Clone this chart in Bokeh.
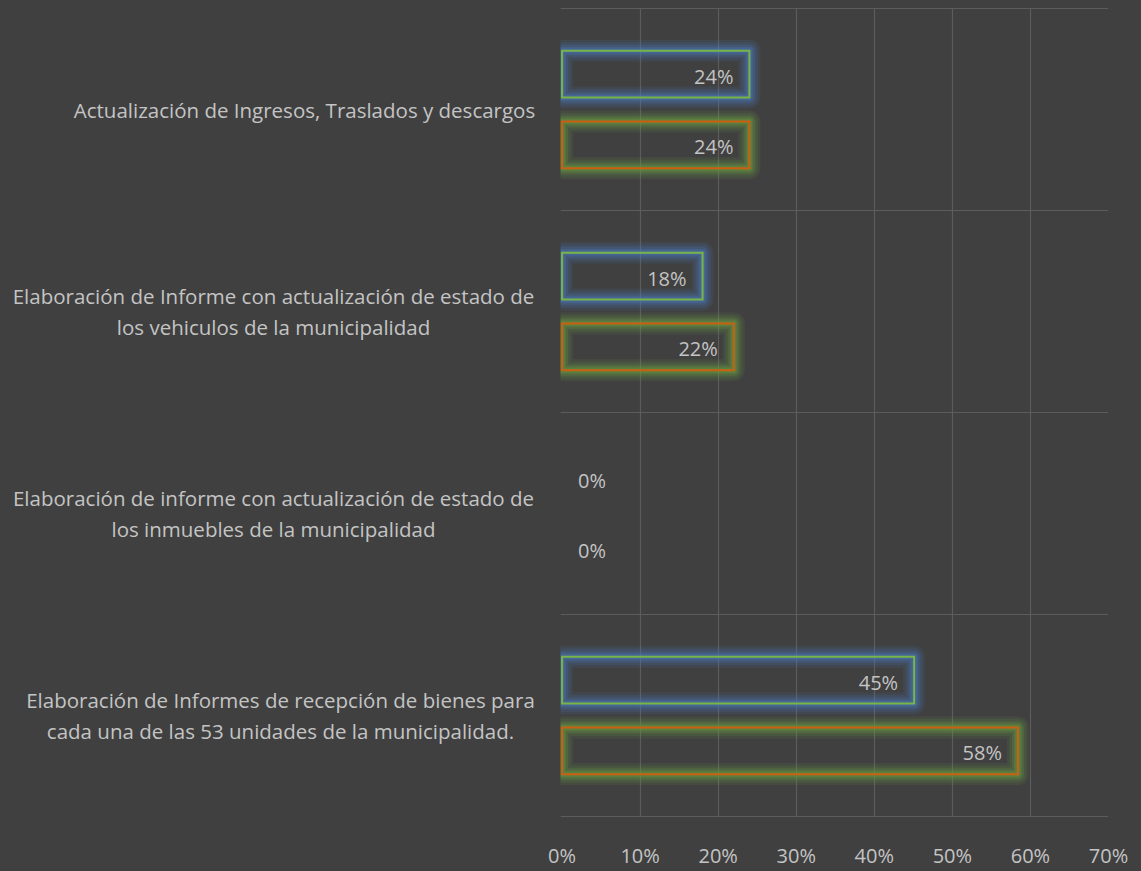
from bokeh.plotting import figure
from bokeh.layouts import row
from bokeh.models import Range1d, FixedTicker, NumeralTickFormatter, Grid, ColumnDataSource
from bokeh.transform import dodge
from bokeh.core.properties import value
from bokeh.embed import file_html
from bokeh.resources import INLINE
import numpy as np

categories = [
    "Actualización de Ingresos, Traslados y descargos",
    "Elaboración de Informe con actualización de estado de\nlos vehiculos de la municipalidad",
    "Elaboración de informe con actualización de estado de\nlos inmuebles de la municipalidad",
    "Elaboración de Informes de recepción de bienes para\ncada una de las 53 unidades de la municipalidad.",
]
serie_1 = [0.24, 0.18, 0.0, 0.451]
serie_2 = [0.24, 0.22, 0.0, 0.584]
x_ticks = [0.0, 0.1, 0.2, 0.3, 0.4, 0.5, 0.6, 0.7]

# style / layout
BG = "#404040"
GRID = "#5C5C5C"
TXT = "#C4C4C4"
FONT = "Open Sans"
FS = "20.5px"
label_centers = [304, 273, 273, 280]  # px within label panel

n = len(categories)
ypos = list(np.arange(n) + 0.5)
yr = Range1d(n + 0.005, -0.005)

H = 871
LEFT_W = 540
RIGHT_W = 1141 - LEFT_W

# ---- left label panel ----
pl = figure(width=LEFT_W, height=H, x_range=Range1d(0, LEFT_W), y_range=yr,
            output_backend="svg", toolbar_location=None,
            x_axis_location=None, y_axis_location=None,
            min_border_left=0, min_border_right=0, min_border_top=7, min_border_bottom=47)
pl.background_fill_color = BG
pl.border_fill_color = BG
pl.outline_line_color = None
pl.grid.visible = False
pl.text(x=label_centers, y=ypos, text=categories, text_align="center",
        text_baseline="middle", text_color=TXT, text_font=value(FONT),
        text_font_size=FS, text_line_height=1.12)

# ---- chart ----
p = figure(width=RIGHT_W, height=H, x_range=Range1d(-0.002, 0.7), y_range=yr,
           output_backend="svg", toolbar_location=None, y_axis_location=None,
           min_border_left=20, min_border_right=33, min_border_top=7, min_border_bottom=47)
p.background_fill_color = BG
p.border_fill_color = BG
p.outline_line_color = None

for r in list(p.center):
    if isinstance(r, Grid) and r.dimension == 1:
        r.visible = False

p.xaxis.ticker = FixedTicker(ticks=x_ticks)
p.xaxis.formatter = NumeralTickFormatter(format="0%")
p.xaxis.axis_line_color = None
p.xaxis.major_tick_line_color = None
p.xaxis.minor_tick_line_color = None
p.xaxis.major_label_text_color = TXT
p.xaxis.major_label_text_font = FONT
p.xaxis.major_label_text_font_size = "20px"
p.xaxis.major_label_standoff = 18
p.xgrid.ticker = FixedTicker(ticks=x_ticks[1:])
p.xgrid.grid_line_color = GRID
p.xgrid.grid_line_width = 1.2
p.add_layout(Grid(dimension=1, ticker=FixedTicker(ticks=list(range(n + 1))),
                  grid_line_color=GRID, grid_line_width=1.2))

OFF = 0.175
BH = 0.232
series = [(serie_1, -OFF, "#78B547", "#4A7AC0"),
          (serie_2, OFF, "#CC5F12", "#6A9E40")]
for vals, off, edge, glow in series:
    idx = [i for i, v in enumerate(vals) if v > 0]
    src = ColumnDataSource(dict(y=[ypos[i] for i in idx], v=[vals[i] for i in idx]))
    yd = dodge("y", off, range=yr)
    for lw, a in [(22, 0.12), (17, 0.15), (12, 0.2), (8, 0.25), (5, 0.3)]:
        p.hbar(y=yd, left=0, right="v", height=BH, source=src, fill_color=None,
               line_color=glow, line_alpha=a, line_width=lw, line_join="round")
    p.hbar(y=yd, left=0, right="v", height=BH, source=src, fill_color=None,
           line_color=edge, line_width=2, line_join="miter")

# data labels
for vals, off in [(serie_1, -OFF), (serie_2, OFF)]:
    nz = [i for i, v in enumerate(vals) if v > 0]
    z = [i for i, v in enumerate(vals) if v <= 0]
    if nz:
        p.text(x=[vals[i] for i in nz], y=[ypos[i] + off for i in nz],
               text=[f"{round(vals[i]*100)}%" for i in nz], text_align="right",
               text_baseline="middle", x_offset=-16, y_offset=2, text_color=TXT,
               text_font=value(FONT), text_font_size="20px")
    if z:
        p.text(x=[vals[i] for i in z], y=[ypos[i] + off for i in z],
               text=[f"{round(vals[i]*100)}%" for i in z], text_align="left",
               text_baseline="middle", x_offset=16, y_offset=2, text_color=TXT,
               text_font=value(FONT), text_font_size="20px")

layout = row(pl, p)
html = file_html(layout, INLINE)
html = html.replace("<head>", "<head><style>html,body{background:#404040;}</style>", 1)
open("out.html", "w").write(html)
